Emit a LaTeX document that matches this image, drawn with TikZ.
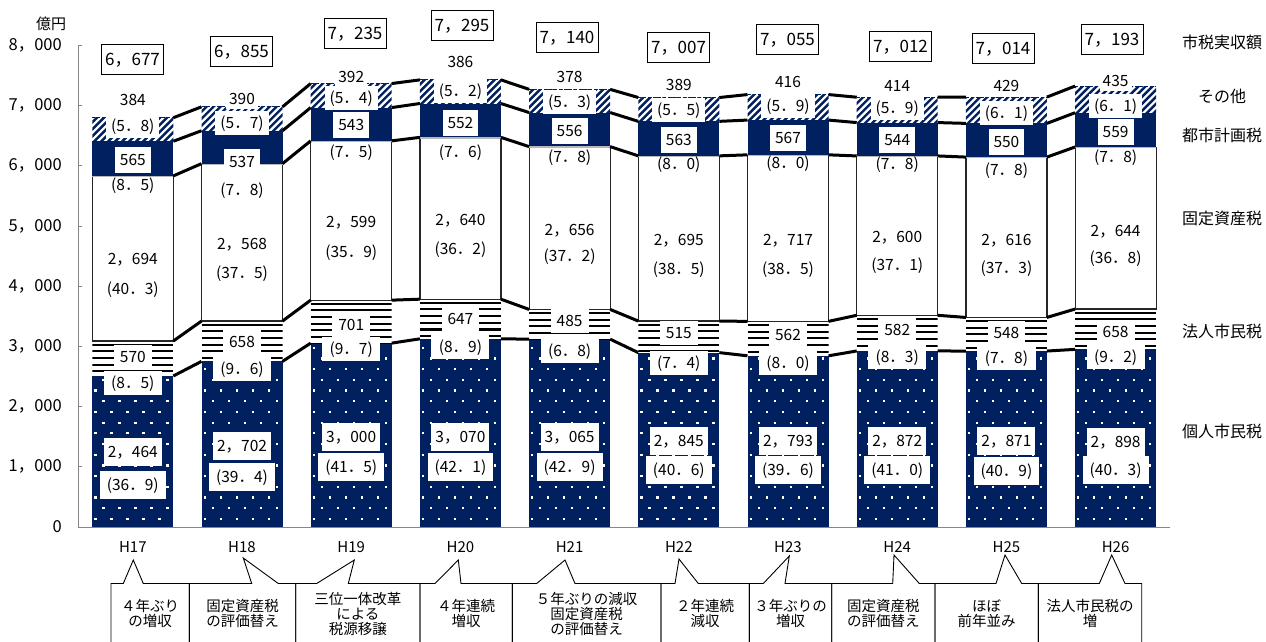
\documentclass[tikz,border=0pt]{standalone}
\usepackage{fontspec}
\setmainfont{Noto Sans CJK JP}
\definecolor{navy}{RGB}{0,32,96}
\definecolor{axisgray}{RGB}{134,134,134}
\begin{document}
\begin{tikzpicture}[x=1pt,y=-1pt,
  conn/.style={line width=3pt,black},
  lbl/.style={font=\fontsize{15.5}{15.5}\selectfont,inner ysep=0pt,text height=11.3pt,text depth=0pt},
  wlbl/.style={lbl,fill=white,inner xsep=#1},
  totbox/.style={draw=black,line width=0.9pt,minimum width=62pt,minimum height=30pt,inner sep=0pt,
    font=\fontsize{17}{17}\selectfont,text height=12.4pt,text depth=0pt},
  leg/.style={font=\fontsize{16}{16}\selectfont},
  axlab/.style={font=\fontsize{16.5}{16.5}\selectfont,anchor=east,inner sep=0pt},
  yearlab/.style={font=\fontsize{15}{15}\selectfont},
  callout/.style={draw=black,line width=0.9pt},
  calltext/.style={font=\fontsize{14.5}{14.7}\selectfont,align=center,inner sep=0pt}]
\useasboundingbox (0,0) rectangle (1266,641);
\fill[white] (0,0) rectangle (1266,641);

% ---------- bars ----------
\foreach \i/\a/\b/\c/\d/\e in {0/2464/570/2694/565/384,1/2702/658/2568/537/390,2/3000/701/2599/543/392,3/3070/647/2640/552/386,4/3065/485/2656/556/378,5/2845/515/2695/563/389,6/2793/562/2717/567/416,7/2872/582/2600/544/414,8/2871/548/2616/550/429,9/2898/658/2644/559/435}{
  \pgfmathsetmacro\xl{92.3+109.2*\i}
  \pgfmathsetmacro\xr{\xl+81}
  \pgfmathsetmacro\yA{527-0.0613*\a}
  \pgfmathsetmacro\yB{527-0.0613*(\a+\b)}
  \pgfmathsetmacro\yC{527-0.0613*(\a+\b+\c)}
  \pgfmathsetmacro\yD{527-0.0613*(\a+\b+\c+\d)}
  \pgfmathsetmacro\yE{527-0.0613*(\a+\b+\c+\d+\e)}
  \coordinate (s\i-1) at (\xl,\yA); \coordinate (t\i-1) at (\xr,\yA);
  \coordinate (s\i-2) at (\xl,\yB); \coordinate (t\i-2) at (\xr,\yB);
  \coordinate (s\i-3) at (\xl,\yC); \coordinate (t\i-3) at (\xr,\yC);
  \coordinate (s\i-4) at (\xl,\yD); \coordinate (t\i-4) at (\xr,\yD);
  \coordinate (s\i-5) at (\xl,\yE); \coordinate (t\i-5) at (\xr,\yE);
  % 個人市民税: navy with white dots
  \fill[navy] (\xl,527) rectangle (\xr,\yA);
  \begin{scope}
    \clip (\xl,527) rectangle (\xr,\yA);
    \foreach \r in {0,...,18}{
      \pgfmathsetmacro\yy{527-6-10.7*\r}
      \pgfmathsetmacro\xo{\xl+3+8*mod(\r,2)}
      \foreach \cc in {0,...,4}{
        \fill[white] ({\xo+16*\cc-1},{\yy-1}) rectangle ++(2.2,-2.2);
      }
    }
  \end{scope}
  % 法人市民税: horizontal lines
  \begin{scope}
    \clip (\xl,\yA) rectangle (\xr,\yB);
    \foreach \t in {0,...,10}{
      \draw[line width=2.1pt] (\xl,{\yB+3.6+6.67*\t}) -- (\xr,{\yB+3.6+6.67*\t});
    }
  \end{scope}
  % 固定資産税: white box
  \draw[black!85,line width=1.2pt] (\xl,\yC) -- (\xl,\yB) -- (\xr,\yB) -- (\xr,\yC);
  % 都市計画税: navy
  \fill[navy] (\xl,\yC) rectangle (\xr,\yD);
  \draw[black!28,line width=1.5pt] (\xl,{\yC+0.6}) -- (\xr,{\yC+0.6});
  % その他: diagonal hatch
  \begin{scope}
    \clip (\xl,\yD) rectangle (\xr,\yE);
    \foreach \t in {-5,...,13}{
      \draw[navy,line width=2.4pt] ({\xl+7*\t},{\yD+2}) -- ++(32,-32);
    }
  \end{scope}
  \draw[navy,line width=0.8pt,dash pattern=on 3pt off 2pt] (\xl,\yE) -- (\xr,\yE);
}

% ---------- connectors between bars ----------
\foreach \i in {0,...,8}{
  \pgfmathtruncatemacro\j{\i+1}
  \foreach \lv in {1,...,5}{
    \draw[conn] (t\i-\lv) -- (s\j-\lv);
  }
}

% ---------- axes ----------
\draw[axisgray,line width=1pt] (78,45.4) -- (78,527) -- (1170,527);
\foreach \v/\t in {0/0,1/1，000,2/2，000,3/3，000,4/4，000,5/5，000,6/6，000,7/7，000,8/8，000}{
  \draw[axisgray,line width=1pt] (78,{527-60.2*\v}) -- (82,{527-60.2*\v});
  \node[axlab] (ax\v) at (62,{527-60.2*\v}) {\t};
}
\node[font=\fontsize{15}{15}\selectfont] (unit) at (51,24) {億円};

% ---------- data labels ----------
% その他
\foreach \i/\v/\p/\yv/\yp in {0/384/5．8/100/125.7,1/390/5．7/99/123.3,2/392/5．4/76.7/98.3,3/386/5．2/62.3/90.7,4/378/5．3/76.7/101.7,5/389/5．5/85/110,6/416/5．9/81.7/106,7/414/5．9/86/107.7,8/429/6．1/86/112.7,9/435/6．1/81/106}{
  \pgfmathsetmacro\xc{132.8+109.2*\i}
  \node[wlbl=3pt,minimum height=20pt] (ev\i) at (\xc,\yv) {\v};
  \node[wlbl=5pt,minimum height=24pt] (ep\i) at (\xc,\yp) {(\p)};
}
% 都市計画税
\foreach \i/\v/\p/\yv/\yp in {0/565/8．5/160/185,1/537/7．8/162.3/190,2/543/7．5/125/152.3,3/552/7．6/122.7/151.7,4/556/7．8/131/156.7,5/563/8．0/140/164,6/567/8．0/137.7/162.7,7/544/7．8/140/164.3,8/550/7．8/141.7/170,9/559/7．8/131.7/157}{
  \pgfmathsetmacro\xc{132.8+109.2*\i}
  \node[wlbl=5pt,minimum height=26pt] (dv\i) at (\xc,\yv) {\v};
  \node[lbl] (dp\i) at (\xc,\yp) {(\p)};
}
% 固定資産税
\foreach \i/\v/\p/\yv/\yp in {0/2，694/40．3/259/289,1/2，568/37．5/244/273,2/2，599/35．9/221.7/251.7,3/2，640/36．2/220/249.3,4/2，656/37．2/230/256,5/2，695/38．5/240/269.3,6/2，717/38．5/240/269,7/2，600/37．1/237/265,8/2，616/37．3/240/268,9/2，644/36．8/231/258}{
  \pgfmathsetmacro\xc{132.8+109.2*\i}
  \node[lbl] (cv\i) at (\xc,\yv) {\v};
  \node[lbl] (cp\i) at (\xc,\yp) {(\p)};
}
% 法人市民税
\foreach \i/\v/\p/\yv/\yp in {0/570/8．5/357/383.3,1/658/9．6/341.7/369.3,2/701/9．7/325/349.3,3/647/8．9/319.3/346.7,4/485/6．8/320.7/351,5/515/7．4/333.3/362.7,6/562/8．0/335/363,7/582/8．3/330/357,8/548/7．8/333/358,9/658/9．2/331.7/356.7}{
  \pgfmathsetmacro\xc{132.8+109.2*\i}
  \node[wlbl=6pt,minimum height=24pt] (bv\i) at (\xc,\yv) {\v};
  \node[wlbl=7.5pt,minimum height=24pt] (bp\i) at (\xc,\yp) {(\p)};
}
% 個人市民税
\foreach \i/\v/\p/\yv/\yp in {0/2，464/36．9/452/485,1/2，702/39．4/446/477,2/3，000/41．5/437/467,3/3，070/42．1/437/467,4/3，065/42．9/437/467,5/2，845/40．6/441/470,6/2，793/39．6/441/470,7/2，872/41．0/441/470,8/2，871/40．9/441/471,9/2，898/40．3/441.7/470}{
  \pgfmathsetmacro\xc{132.8+109.2*\i}
  \node[wlbl=4pt,minimum height=28pt] (av\i) at (\xc,\yv) {\v};
  \node[wlbl=7pt,minimum height=28pt] (ap\i) at (\xc,\yp) {(\p)};
}

% ---------- totals ----------
\foreach \i/\x/\y/\t in {0/132.5/59/6，677,1/241.5/51.7/6，855,2/355/33/7，235,3/462/25/7，295,4/567/37/7，140,5/678.6/47.5/7，007,6/787.5/39/7，055,7/900.5/46/7，012,8/1003/48/7，014,9/1112/39/7，193}{
  \node[totbox] (tot\i) at (\x,\y) {\t};
}

% ---------- legend ----------
\node[leg] (lg0) at (1222,42) {市税実収額};
\node[leg] (lg1) at (1222,96.5) {その他};
\node[leg] (lg2) at (1222,135) {都市計画税};
\node[leg] (lg3) at (1222,218) {固定資産税};
\node[leg] (lg4) at (1222,331) {法人市民税};
\node[leg] (lg5) at (1222,431) {個人市民税};

% ---------- year labels ----------
\foreach \i/\t in {0/H17,1/H18,2/H19,3/H20,4/H21,5/H22,6/H23,7/H24,8/H25,9/H26}{
  \node[yearlab] (yr\i) at ({132.8+109.2*\i},547) {\t};
}

% ---------- callouts ----------
\foreach \i/\l/\r/\ba/\tx/\ty/\bb in {0/111/189.3/123.3/133.3/560/143.3,1/189.3/295.7/251.7/243.3/558/278.3,2/295.7/420/316.7/354.3/560/348.3,3/420/512.3/435/458.3/560/461,4/512.3/661/536.7/565/560/575,5/661/749.3/675/679/559/698.3,6/749.3/831.7/763.3/789.3/556/785,7/831.7/935/892.7/894/555/919.3,8/935/1038.3/996/1005/555/1021.7,9/1038.3/1141.7/1099.3/1111.7/555/1125}{
  \coordinate (cl\i) at (\l,645);
  \coordinate (cr\i) at (\r,645);
  \coordinate (ctip\i) at (\tx,\ty);
  \draw[callout] (cl\i) -- (\l,583.5) -- (\ba,583.5) -- (ctip\i) -- (\bb,583.5) -- (\r,583.5) -- (cr\i);
}
\node[calltext] (ct0) at (150.2,613.5) {４年ぶり\\の増収};
\node[calltext] (ct1) at (242.5,613.5) {固定資産税\\の評価替え};
\node[calltext] (ct2) at (357.8,614) {三位一体改革\\による\\税源移譲};
\node[calltext] (ct3) at (466.2,613.5) {４年連続\\増収};
\node[calltext] (ct4) at (586.7,614) {５年ぶりの減収\\固定資産税\\の評価替え};
\node[calltext] (ct5) at (705.2,613.5) {２年連続\\減収};
\node[calltext] (ct6) at (790.5,613.5) {３年ぶりの\\増収};
\node[calltext] (ct7) at (883.3,613.5) {固定資産税\\の評価替え};
\node[calltext] (ct8) at (986.7,613.5) {ほぼ\\前年並み};
\node[calltext] (ct9) at (1090,613.5) {法人市民税の\\増};
\end{tikzpicture}
\end{document}
